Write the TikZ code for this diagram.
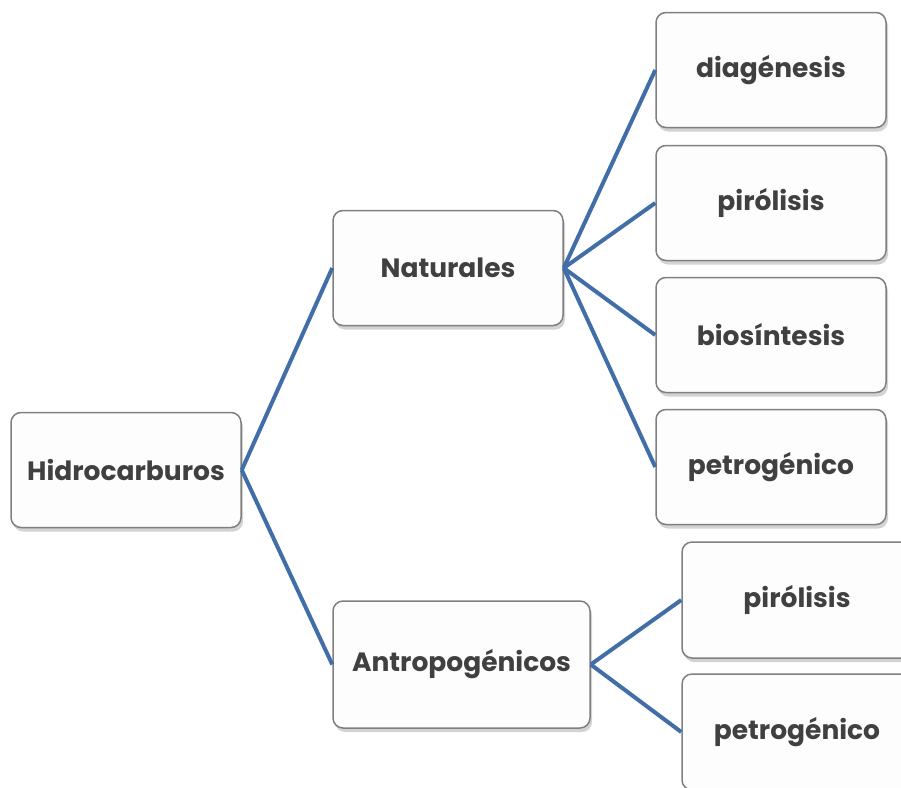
\documentclass[tikz,border=0pt]{standalone}
\usepackage{fontspec}
\setmainfont{Poppins}
\usetikzlibrary{shadows}
\definecolor{linkblue}{RGB}{66,110,168}
\definecolor{boxborder}{RGB}{128,128,128}
\definecolor{boxfill}{RGB}{253,253,253}
\definecolor{txt}{RGB}{64,64,64}
\tikzset{
  box/.style={draw=boxborder, line width=1.5pt, fill=boxfill, rounded corners=10pt,
    minimum width=230pt, minimum height=115pt, inner sep=0pt,
    font=\fontsize{26.5pt}{30pt}\selectfont\bfseries, text=txt,
    drop shadow={opacity=0.35, shadow xshift=2pt, shadow yshift=-4pt}},
  link/.style={draw=linkblue, line width=4pt}
}
\begin{document}
\begin{tikzpicture}[x=1pt,y=-1pt]
\useasboundingbox (0,0) rectangle (901,787);
\clip (0,0) rectangle (901,787);
\node[box] (h) at (126,470) {Hidrocarburos};
\node[box] (n) at (448,268) {Naturales};
\node[box, minimum width=257pt, minimum height=127pt] (a) at (461.5,664.5) {Antropogénicos};
\node[box] (d) at (771,70) {diagénesis};
\node[box] (p1) at (771,203) {pirólisis};
\node[box] (b) at (771,335) {biosíntesis};
\node[box] (pe1) at (771,467) {petrogénico};
\node[box, minimum height=116pt] (p2) at (797,600) {pirólisis};
\node[box, minimum height=116pt] (pe2) at (797,732) {petrogénico};
\draw[link] (h.east) -- (n.west);
\draw[link] (h.east) -- (a.west);
\foreach \t in {d,p1,b,pe1} \draw[link] (n.east) -- (\t.west);
\foreach \t in {p2,pe2} \draw[link] (a.east) -- (\t.west);
\end{tikzpicture}
\end{document}
